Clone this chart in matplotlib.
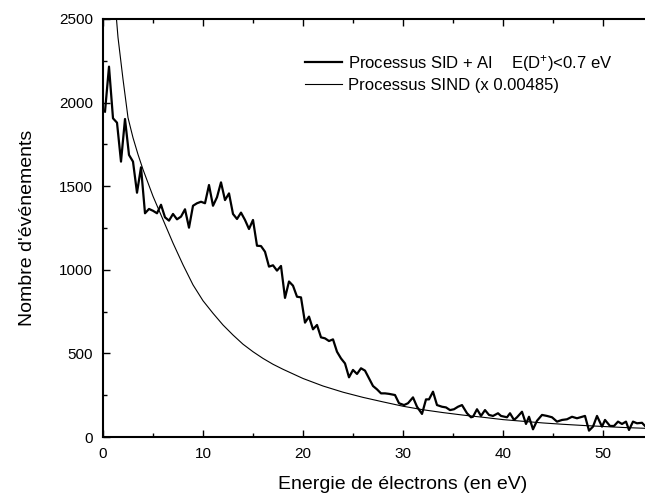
import numpy as np
import matplotlib
matplotlib.use("Agg")
import matplotlib.pyplot as plt
from matplotlib.ticker import FixedLocator

plt.rcParams['font.family'] = ['Liberation Sans', 'DejaVu Sans']
plt.rcParams['mathtext.fontset'] = 'custom'
plt.rcParams['mathtext.rm'] = 'Liberation Sans'
plt.rcParams['mathtext.default'] = 'rm'

energie_sid = [0.2, 0.6, 1.0, 1.4, 1.8, 2.2, 2.6, 3.0, 3.4, 3.8,
               4.2, 4.6, 5.0, 5.4, 5.8, 6.2, 6.6, 7.0, 7.4, 7.8,
               8.2, 8.6, 9.0, 9.4, 9.8, 10.2, 10.6, 11.0, 11.4, 11.8,
               12.2, 12.6, 13.0, 13.4, 13.8, 14.2, 14.6, 15.0, 15.4, 15.8,
               16.2, 16.6, 17.0, 17.4, 17.8, 18.2, 18.6, 19.0, 19.4, 19.8,
               20.2, 20.6, 21.0, 21.4, 21.8, 22.2, 22.6, 23.0, 23.4, 23.8,
               24.2, 24.6, 25.0, 25.4, 25.8, 26.2, 26.6, 27.0, 27.4, 27.8,
               28.2, 28.6, 29.2, 29.6, 30.1, 30.5, 31.0, 31.4, 31.9, 32.3,
               32.6, 33.0, 33.4, 33.9, 34.3, 34.7, 35.1, 35.5, 35.9, 36.4,
               36.8, 37.0, 37.4, 37.8, 38.2, 38.6, 39.0, 39.5, 39.8, 40.4,
               40.7, 41.1, 41.4, 41.9, 42.3, 42.6, 43.0, 43.4, 43.9, 44.4,
               44.9, 45.4, 45.9, 46.4, 46.9, 47.4, 47.9, 48.2, 48.6, 49.0,
               49.4, 49.9, 50.2, 50.7, 51.1, 51.5, 51.9, 52.3, 52.6, 53.0,
               53.4, 53.9, 54.2]
nombre_sid = [1946, 2215, 1906, 1880, 1647, 1902, 1687, 1647, 1461, 1613,
              1338, 1364, 1353, 1338, 1389, 1314, 1294, 1334, 1302, 1318,
              1362, 1252, 1383, 1398, 1407, 1398, 1507, 1383, 1434, 1523,
              1417, 1457, 1334, 1304, 1342, 1298, 1244, 1298, 1144, 1142,
              1108, 1019, 1027, 995, 1023, 832, 930, 905, 839, 835,
              684, 720, 644, 670, 596, 590, 574, 584, 510, 470,
              440, 357, 401, 377, 411, 397, 351, 305, 285, 261,
              261, 258, 251, 202, 191, 202, 237, 181, 138, 225,
              225, 271, 191, 181, 177, 161, 166, 181, 191, 142,
              118, 121, 166, 126, 161, 132, 126, 142, 126, 118,
              142, 102, 118, 151, 78, 121, 46, 97, 132, 126,
              118, 92, 102, 106, 121, 112, 121, 126, 38, 62,
              126, 62, 102, 66, 66, 92, 78, 92, 42, 92,
              82, 85, 66]

# --- processus SIND (x 0.00485) ---
energie_sind = [1.0, 1.5, 2.0, 2.5, 3.0, 3.5, 4.0, 5.0, 6.0, 7.0,
                8.0, 9.0, 10.0, 11.0, 12.0, 13.0, 14.0, 15.0, 16.0, 17.0,
                18.0, 20.0, 22.0, 24.0, 26.0, 28.0, 30.0, 32.0, 34.0, 36.0,
                38.0, 40.0, 42.0, 44.0, 46.0, 48.0, 50.0, 52.0, 54.2]
nombre_sind = [2750, 2390, 2140, 1910, 1790, 1690, 1600, 1440, 1300, 1160,
               1030, 910, 815, 740, 670, 610, 555, 510, 470, 435,
               405, 350, 305, 268, 237, 210, 184, 163, 146, 131,
               118, 104, 94, 84, 76, 69, 63, 57, 52]

x_major = [0, 10, 20, 30, 40, 50]
x_minor = [5, 15, 25, 35, 45, 55]
y_major = [0, 500, 1000, 1500, 2000, 2500]
y_minor = [250, 750, 1250, 1750, 2250]

fig = plt.figure(figsize=(6.45, 4.98), dpi=100)
# axe plus large que la figure : le bord droit est coupé comme sur l'original
ax = fig.add_axes([103 / 645, 61 / 498, 600 / 645, 418 / 498])

ax.plot(energie_sid, nombre_sid, color='black', lw=1.6,
        label=r'Processus SID + AI    E(D$^{+}$)<0.7 eV')
ax.plot(energie_sind, nombre_sind, color='black', lw=0.8,
        label='Processus SIND (x 0.00485)')

ax.set_xlim(0, 60)
ax.set_ylim(0, 2500)
ax.xaxis.set_major_locator(FixedLocator(x_major))
ax.xaxis.set_minor_locator(FixedLocator(x_minor))
ax.yaxis.set_major_locator(FixedLocator(y_major))
ax.yaxis.set_minor_locator(FixedLocator(y_minor))
ax.tick_params(which='both', direction='in', top=True, right=True,
               width=1.0, labelsize=11)
ax.tick_params(which='major', length=5, pad=7)
ax.tick_params(which='minor', length=3)
for s in ax.spines.values():
    s.set_linewidth(1.5)

ax.set_xlabel('Energie de électrons (en eV)', fontsize=14, labelpad=11)
ax.set_ylabel("Nombre d'événements", fontsize=14, labelpad=17)

ax.legend(loc='upper left', bbox_to_anchor=(305 / 645, 1 - 53 / 498),
          bbox_transform=fig.transFigure, frameon=False, fontsize=12,
          handlelength=2.2, handletextpad=0.35, labelspacing=0.25,
          borderaxespad=0, borderpad=0)

fig.savefig('out.png', dpi=100)
